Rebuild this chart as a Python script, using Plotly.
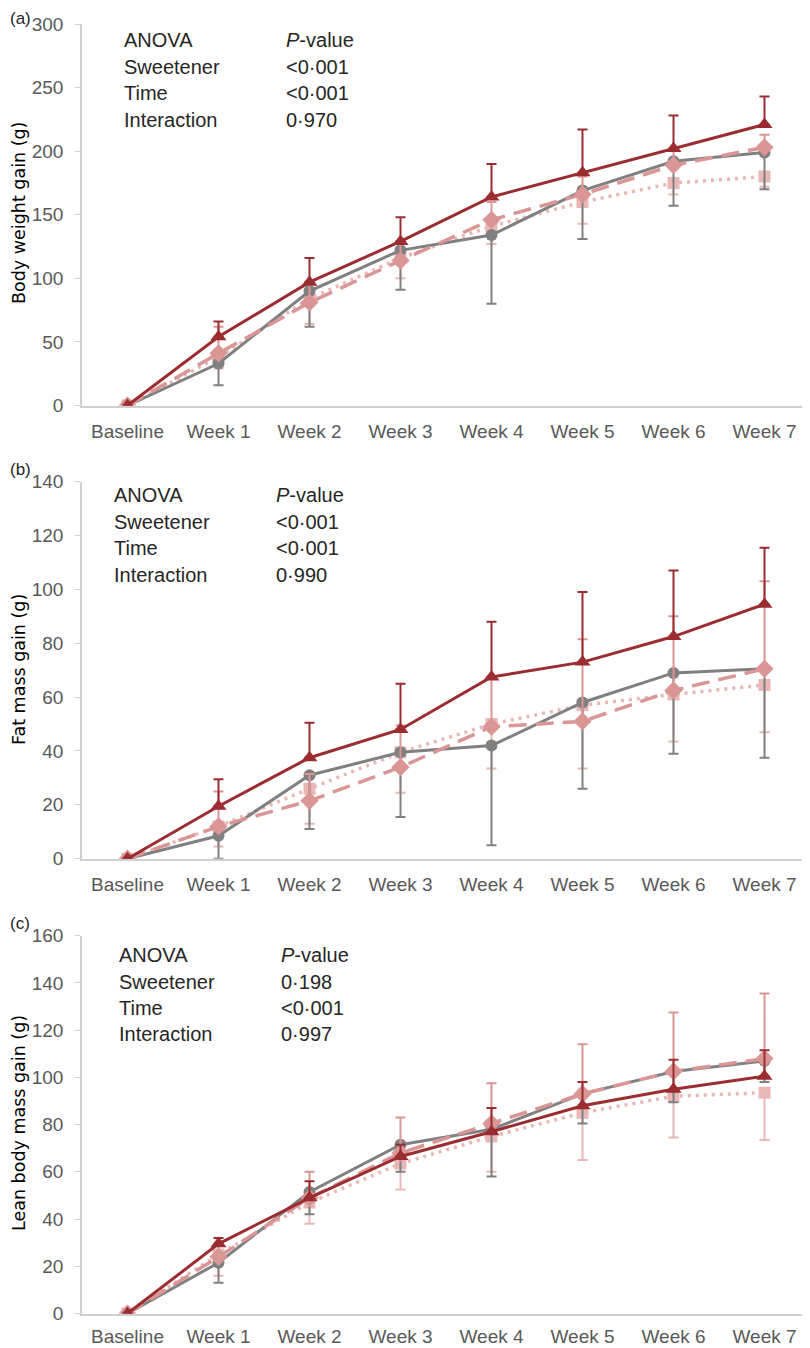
import plotly.graph_objects as go

categories = ["Baseline", "Week 1", "Week 2", "Week 3", "Week 4", "Week 5", "Week 6", "Week 7"]

# Panel (a) Body weight gain (g)
a_gray = [0, 33, 90, 122, 134, 169, 192, 199]
a_gray_err_dn = [0, 17, 28, 31, 54, 38, 35, 29]
a_tri = [0, 54, 97, 129, 164, 183, 202, 221]
a_tri_err_up = [0, 12, 19, 19, 26, 34, 26, 22]
a_dia = [0, 41, 81, 114, 146, 166, 189, 203]
a_dia_err_up = [0, 21, 16, 15, 14, 14, 13, 10]
a_sq = [0, 38, 84, 116, 141, 160, 175, 180]
a_sq_err_dn = [0, 9, 20, 16, 14, 17, 9, 8]

# Panel (b) Fat mass gain (g)
b_gray = [0, 8.5, 31, 39.5, 42, 58, 69, 70.5]
b_gray_err_dn = [0, 8.5, 20, 24, 37, 32, 30, 33]
b_tri = [0, 19.5, 37.5, 48, 67.5, 73, 82.5, 94.5]
b_tri_err_up = [0, 10, 13, 17, 20.5, 26, 24.5, 21]
b_dia = [0, 12, 21.5, 34, 49, 51, 62.5, 70.5]
b_dia_err_up = [0, 13, 10, 15.5, 18, 30.5, 27.5, 32.5]
b_sq = [0, 12, 26, 39.5, 50, 57, 61, 64.5]
b_sq_err_dn = [0, 7.5, 13, 15, 16.5, 23.5, 17.5, 17.5]

# Panel (c) Lean body mass gain (g)
c_gray = [0, 21.5, 51.5, 71.5, 78, 93, 102.5, 107]
c_gray_err_dn = [0, 8.5, 9.5, 11.5, 20, 12.5, 13, 9]
c_tri = [0, 29.5, 49, 66.5, 77, 88, 95, 100.5]
c_tri_err_up = [0, 2.5, 7, 5, 10, 10, 12.5, 11]
c_dia = [0, 24, 49, 68, 80.5, 93, 102.5, 108]
c_dia_err_up = [0, 5, 11, 15, 17, 21, 25, 27.5]
c_sq = [0, 25, 47, 63.5, 75, 85, 92, 93.5]
c_sq_err_dn = [0, 9, 9, 11, 15, 20, 17.5, 20]

y_titles = ["Body weight gain (g)", "Fat mass gain (g)", "Lean body mass gain (g)"]
panel_letters = ["(a)", "(b)", "(c)"]
anova_rows = ["ANOVA", "Sweetener", "Time", "Interaction"]
pvals = [
    ["<i>P</i>-value", "<0·001", "<0·001", "0·970"],
    ["<i>P</i>-value", "<0·001", "<0·001", "0·990"],
    ["<i>P</i>-value", "0·198", "<0·001", "0·997"],
]
y_max = [300, 140, 160]
y_dtick = [50, 20, 20]

# the page body has an 8px margin: the figure is drawn 8px right and down
OFF = 8.0
W = 810.0 - OFF
H = 1348.0 - OFF

def px(p):
    return (p - OFF) / W

def py(p):
    return 1 - (p - OFF) / H

# pixel geometry (screen pixels) of each panel: top of y-range, zero line
panel_px = [(24, 405.5), (481.7, 858.7), (935.7, 1313.5)]
anova_px = [(122, 284, [40, 66.5, 93, 119.5]),
            (112, 274, [495, 521.5, 548, 574.5]),
            (117, 279, [955, 981.5, 1008, 1034])]
ytitle_py = [213, 670, 1123]
letter_py = [18, 469, 924]
xlabel_standoff = [8, 8, 5]

GRAY = "#808080"
DRED = "#9b2d30"
PINK = "#d99694"
LPINK = "#e8b7b6"

panels = [
    (a_gray, a_gray_err_dn, a_tri, a_tri_err_up, a_dia, a_dia_err_up, a_sq, a_sq_err_dn),
    (b_gray, b_gray_err_dn, b_tri, b_tri_err_up, b_dia, b_dia_err_up, b_sq, b_sq_err_dn),
    (c_gray, c_gray_err_dn, c_tri, c_tri_err_up, c_dia, c_dia_err_up, c_sq, c_sq_err_dn),
]

fig = go.Figure()
zeros = [0] * len(categories)
TICKFONT = dict(family="Liberation Sans, Arial, sans-serif", size=19, color="#595959")
TXTFONT = dict(family="Liberation Sans, Arial, sans-serif", size=20, color="#262626")

for i, (g, gdn, t, tup, d, dup, s, sdn) in enumerate(panels):
    xa = "x" if i == 0 else f"x{i+1}"
    ya = "y" if i == 0 else f"y{i+1}"
    # squares, dotted
    fig.add_trace(go.Scatter(
        x=categories, y=s, xaxis=xa, yaxis=ya, mode="lines+markers",
        line=dict(color=LPINK, width=3.5, dash="3px,5px"),
        marker=dict(symbol="square", size=12, color=LPINK),
        error_y=dict(type="data", symmetric=False, array=zeros, arrayminus=sdn,
                     color=LPINK, thickness=2, width=5),
        showlegend=False))
    # gray circles, solid
    fig.add_trace(go.Scatter(
        x=categories, y=g, xaxis=xa, yaxis=ya, mode="lines+markers",
        line=dict(color=GRAY, width=3),
        marker=dict(symbol="circle", size=12, color=GRAY),
        error_y=dict(type="data", symmetric=False, array=zeros, arrayminus=gdn,
                     color=GRAY, thickness=2, width=5),
        showlegend=False))
    # pink diamonds, dashed
    fig.add_trace(go.Scatter(
        x=categories, y=d, xaxis=xa, yaxis=ya, mode="lines+markers",
        line=dict(color=PINK, width=3.5, dash="18px,9px"),
        marker=dict(symbol="diamond", size=14, color=PINK),
        error_y=dict(type="data", symmetric=False, array=dup, arrayminus=zeros,
                     color=PINK, thickness=2, width=5),
        showlegend=False))
    # dark red triangles, solid
    fig.add_trace(go.Scatter(
        x=categories, y=t, xaxis=xa, yaxis=ya, mode="lines+markers",
        line=dict(color=DRED, width=3),
        marker=dict(symbol="triangle-up", size=14, color=DRED),
        error_y=dict(type="data", symmetric=False, array=tup, arrayminus=zeros,
                     color=DRED, thickness=2, width=5),
        showlegend=False))

layout = dict(
    width=int(W), height=int(H), plot_bgcolor="white", paper_bgcolor="white",
    margin=dict(l=0, r=0, t=0, b=0), showlegend=False,
)
annotations = []
for i in range(3):
    top, bot = panel_px[i]
    xk = "xaxis" if i == 0 else f"xaxis{i+1}"
    yk = "yaxis" if i == 0 else f"yaxis{i+1}"
    ya = "y" if i == 0 else f"y{i+1}"
    layout[xk] = dict(
        domain=[px(82), min(1.0, px(810))], anchor=ya, type="category",
        range=[-0.5, 7.5], showline=True, linecolor="#d0d0d0", linewidth=1.5,
        ticks="", showgrid=False, zeroline=False, tickfont=TICKFONT,
        ticklabelstandoff=xlabel_standoff[i], automargin=False, fixedrange=True,
    )
    layout[yk] = dict(
        domain=[py(bot), py(top)], anchor="x" if i == 0 else f"x{i+1}",
        range=[0, y_max[i]], dtick=y_dtick[i], showline=True, linecolor="#d0d0d0",
        linewidth=1.5, ticks="outside", ticklen=5, tickcolor="#d0d0d0",
        showgrid=False, zeroline=False, tickfont=TICKFONT, ticklabelstandoff=8,
        automargin=False, fixedrange=True,
    )
    ax_left, ax_right, rows_py = anova_px[i]
    for r in range(4):
        annotations.append(dict(
            x=px(ax_left), y=py(rows_py[r]), xref="paper", yref="paper",
            text=anova_rows[r], showarrow=False, xanchor="left", yanchor="middle",
            font=TXTFONT))
        annotations.append(dict(
            x=px(ax_right), y=py(rows_py[r]), xref="paper", yref="paper",
            text=pvals[i][r], showarrow=False, xanchor="left", yanchor="middle",
            font=TXTFONT))
    annotations.append(dict(
        x=px(19), y=py(ytitle_py[i]), xref="paper", yref="paper", text=y_titles[i],
        textangle=-90, showarrow=False, xanchor="center", yanchor="middle",
        font=dict(family="DejaVu Sans, Verdana, sans-serif", size=17.5, color="#000000")))
    annotations.append(dict(
        x=0, y=py(letter_py[i]), xref="paper", yref="paper", text=panel_letters[i],
        showarrow=False, xanchor="left", yanchor="middle",
        font=dict(family="Liberation Sans Narrow, Liberation Sans, sans-serif", size=17, color="#262626")))

layout["annotations"] = annotations
fig.update_layout(**layout)
fig.write_html("out.html")
